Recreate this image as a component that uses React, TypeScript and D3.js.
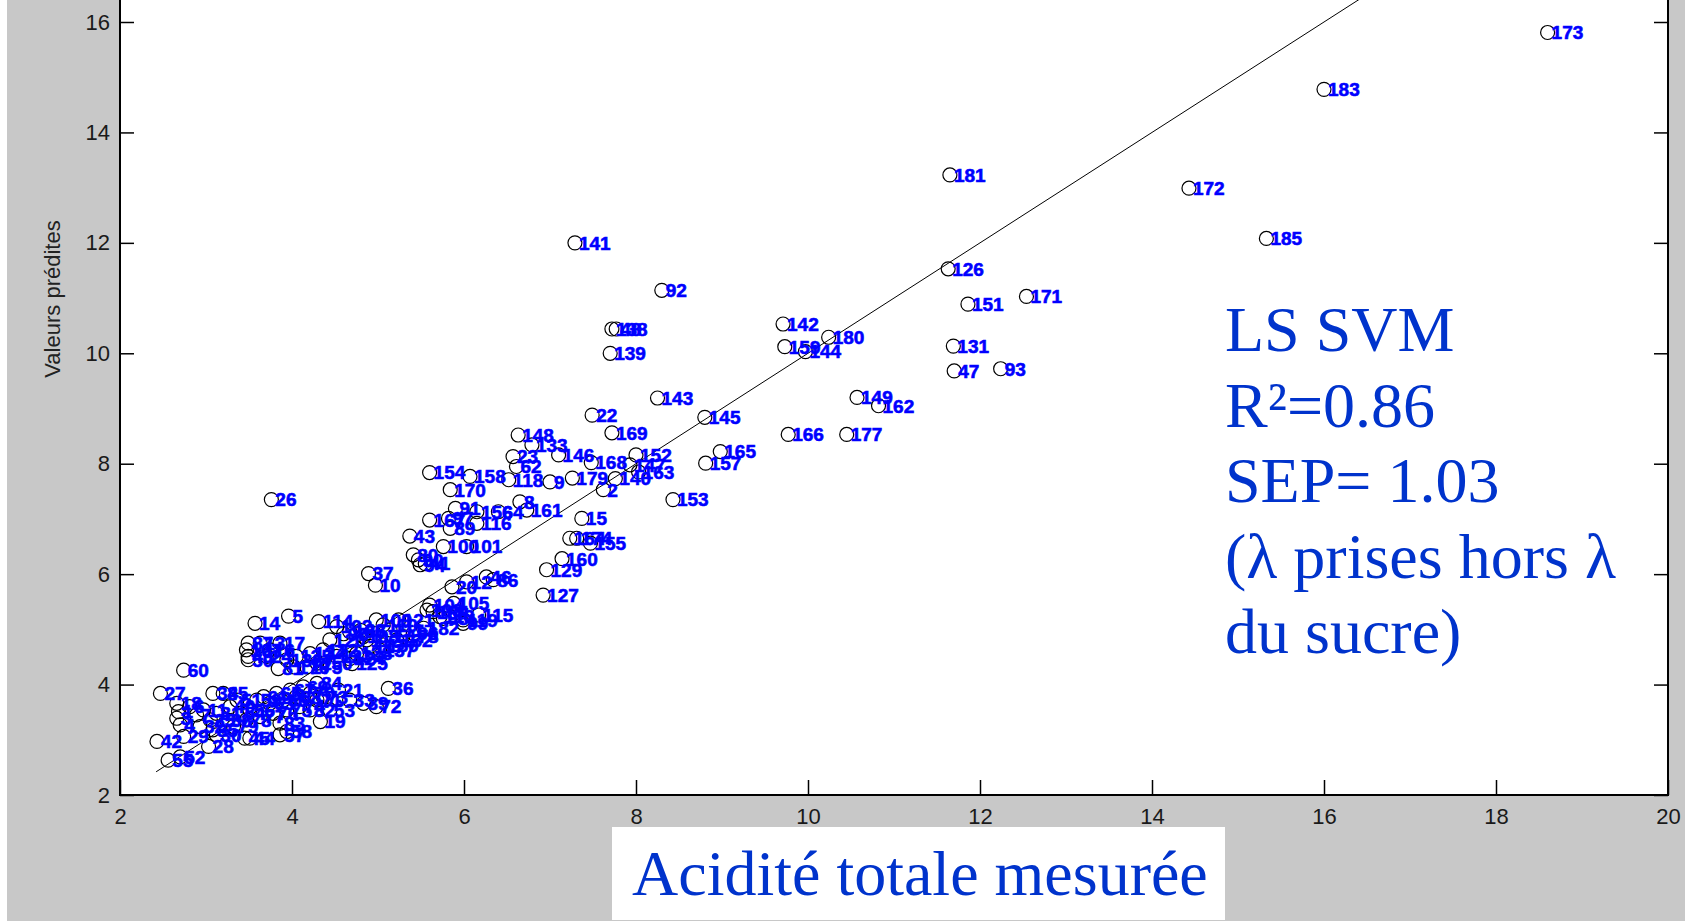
import React, { useRef, useEffect } from 'react';
import * as d3 from 'd3';

const W = 1685;
const H = 921;

const labels = [
  173, 183, 181, 172, 185, 141, 126, 92, 171, 151, 142, 138, 48, 180, 159, 144, 131, 139, 47, 93,
  143, 149, 162, 22, 145, 169, 166, 177, 148, 133, 165, 146, 152, 23, 168, 157, 147, 62, 163, 154,
  158, 179, 140, 118, 9, 170, 2, 153, 26, 8, 91, 161, 156, 64, 97, 15, 167, 116, 89, 43,
  164, 174, 155, 100, 101, 80, 90, 41, 94, 160, 129, 37, 46, 86, 12, 10, 20, 127, 105, 104,
  103, 115, 113, 119, 5, 121, 114, 14, 96, 87, 107, 49, 50, 137, 125, 81, 60, 36, 21, 27,
  34, 33, 39, 18, 72, 53, 19, 57, 58, 30, 29, 45, 44, 42, 28, 52, 55,
  102, 106, 108, 109, 110, 111, 112, 117, 120, 122, 123, 124, 128, 130, 132, 134, 135, 136, 150, 175,
  176, 178, 182, 184, 98, 99, 95, 88, 13, 16, 17, 24,
  1, 3, 4, 6, 7, 11, 25, 31, 32, 35, 38, 40, 51, 54, 56, 59, 61, 63, 65, 66,
  67, 68, 69, 70, 71, 73, 74, 75, 76, 77, 78, 79, 82, 83, 84, 85,
];

const measured = [
  18.6, 16.0, 11.65, 14.43, 15.33, 7.29, 11.63, 8.3, 12.54, 11.86, 9.71, 7.72, 7.77, 10.24, 9.73, 9.97, 11.69, 7.7, 11.7, 12.24,
  8.25, 10.57, 10.82, 7.49, 8.8, 7.72, 9.77, 10.45, 6.63, 6.79, 8.98, 7.1, 8.0, 6.57, 7.48, 8.81, 7.93, 6.61, 8.03, 5.6,
  6.07, 7.26, 7.76, 6.52, 7.0, 5.84, 7.62, 8.43, 3.76, 6.65, 5.9, 6.73, 6.15, 6.4, 5.82, 7.37, 5.6, 6.15, 5.84, 5.37,
  7.23, 7.31, 7.47, 5.76, 6.03, 5.41, 5.47, 5.55, 5.49, 7.14, 6.96, 4.89, 6.26, 6.34, 6.03, 4.97, 5.86, 6.92, 5.88, 5.6,
  5.57, 6.17, 5.72, 5.99, 3.96, 5.24, 4.31, 3.57, 5.41, 3.49, 3.47, 3.49, 3.49, 5.02, 4.7, 3.84, 2.74, 5.12, 4.54, 2.47,
  3.08, 4.67, 4.83, 2.66, 4.98, 4.44, 4.33, 3.86, 3.94, 3.12, 2.74, 3.45, 3.51, 2.43, 3.03, 2.7, 2.56,
  4.52, 4.67, 4.83, 4.98, 5.06, 5.14, 4.87, 4.91, 4.44, 4.36, 4.52, 4.67, 4.75, 5.06, 5.22, 4.21, 4.05, 3.94, 4.29, 4.17,
  4.02, 5.29, 5.53, 5.64, 5.76, 5.99, 4.6, 4.8, 3.63, 3.74, 3.86, 3.71,
  2.68, 2.66, 2.7, 2.81, 2.89, 2.97, 3.05, 3.12, 2.93, 3.08, 3.24, 3.28, 3.36, 3.4, 3.51, 3.59, 3.67, 3.74, 3.82, 3.9,
  3.98, 4.05, 4.13, 4.21, 4.29, 4.36, 4.09, 3.94, 3.78, 3.63, 3.47, 3.32, 4.21, 3.86, 4.29, 3.2,
];

const predicted = [
  15.81, 14.78, 13.23, 12.99, 12.08, 12.0, 11.53, 11.14, 11.03, 10.89, 10.53, 10.44, 10.44, 10.29, 10.12, 10.03, 10.13, 10.0, 9.68, 9.72,
  9.19, 9.2, 9.05, 8.88, 8.84, 8.56, 8.53, 8.53, 8.52, 8.34, 8.22, 8.16, 8.16, 8.13, 8.02, 8.01, 7.98, 7.95, 7.85, 7.84,
  7.77, 7.74, 7.73, 7.71, 7.67, 7.53, 7.53, 7.35, 7.35, 7.31, 7.19, 7.16, 7.13, 7.13, 7.01, 7.01, 6.98, 6.92, 6.83, 6.69,
  6.65, 6.65, 6.56, 6.5, 6.5, 6.35, 6.26, 6.19, 6.17, 6.28, 6.08, 6.01, 5.95, 5.9, 5.86, 5.8, 5.77, 5.62, 5.47, 5.44,
  5.35, 5.26, 5.23, 5.17, 5.24, 5.17, 5.14, 5.11, 4.93, 4.75, 4.63, 4.51, 4.45, 4.63, 4.38, 4.29, 4.26, 3.93, 3.9, 3.84,
  3.84, 3.72, 3.66, 3.66, 3.6, 3.54, 3.33, 3.09, 3.15, 3.09, 3.06, 3.03, 3.03, 2.97, 2.88, 2.69, 2.63,
  5.05, 4.96, 4.87, 5.17, 5.08, 4.99, 4.81, 4.69, 4.81, 4.63, 4.51, 4.47, 4.56, 4.72, 4.81, 4.56, 4.51, 4.45, 4.39, 4.32,
  4.32, 4.87, 5.02, 5.32, 5.2, 5.11, 4.92, 4.98, 4.75, 4.63, 4.75, 4.51,
  3.51, 3.39, 3.27, 3.6, 3.45, 3.54, 3.36, 3.48, 3.24, 3.18, 3.36, 3.6, 3.72, 3.48, 3.54, 3.72, 3.78, 3.66, 3.84, 3.72,
  3.9, 3.78, 3.96, 3.84, 3.72, 3.78, 3.6, 3.54, 3.48, 3.42, 3.36, 3.24, 3.54, 3.3, 4.02, 3.84,
];

const xTicks = [2, 4, 6, 8, 10, 12, 14, 16, 18, 20];
const yTicks = [2, 4, 6, 8, 10, 12, 14, 16];
const diagonal = [2.42, 18.6];
const noteLines = ['LS SVM', 'R²=0.86', 'SEP= 1.03', '(λ prises hors λ', 'du sucre)'];
const xTitle = 'Acidité totale mesurée';
const yTitle = 'Valeurs prédites';

const App = () => {
  const svgRef = useRef<SVGSVGElement>(null);

  useEffect(() => {
    const svg = d3.select(svgRef.current);
    svg.selectAll('*').remove();

    const x = d3.scaleLinear().domain([2, 20]).range([120, 1668]);
    const y = d3.scaleLinear().domain([2, 16]).range([795, 22]);

    // backgrounds
    svg.append('rect').attr('width', W).attr('height', H).attr('fill', '#fff');
    svg.append('rect').attr('x', 7).attr('width', W - 7).attr('height', H).attr('fill', '#c8c8c8');
    svg.append('rect')
      .attr('x', x(2)).attr('y', 0)
      .attr('width', x(20) - x(2)).attr('height', y(2))
      .attr('fill', '#fff');

    svg.append('clipPath').attr('id', 'plot-clip')
      .append('rect')
      .attr('x', x(2)).attr('y', 0)
      .attr('width', x(20) - x(2)).attr('height', y(2));

    const tickFont = (g) => g.selectAll('text')
      .attr('font-family', 'Liberation Sans, Arial, sans-serif')
      .attr('font-size', 22)
      .attr('fill', '#1a1a1a');

    // axes, ticks pointing inward like MATLAB
    const gx = svg.append('g').attr('transform', `translate(0,${y(2)})`)
      .call(d3.axisBottom(x).tickValues(xTicks).tickSizeInner(-15).tickSizeOuter(0).tickPadding(13));
    gx.select('.domain').remove();
    gx.selectAll('line').attr('stroke', '#000').attr('stroke-width', 1.5);
    tickFont(gx);

    const gy = svg.append('g').attr('transform', `translate(${x(2)},0)`)
      .call(d3.axisLeft(y).tickValues(yTicks).tickSizeInner(-14).tickSizeOuter(0).tickPadding(10));
    gy.select('.domain').remove();
    gy.selectAll('line').attr('stroke', '#000').attr('stroke-width', 1.5);
    tickFont(gy);

    const gr = svg.append('g').attr('transform', `translate(${x(20)},0)`)
      .call(d3.axisRight(y).tickValues(yTicks).tickSizeInner(-14).tickSizeOuter(0).tickFormat(() => ''));
    gr.select('.domain').remove();
    gr.selectAll('line').attr('stroke', '#000').attr('stroke-width', 1.5);

    svg.append('path')
      .attr('d', `M${x(2)},0V${y(2)}H${x(20)}V0`)
      .attr('fill', 'none')
      .attr('stroke', '#000')
      .attr('stroke-width', 2);

    // y = x reference line
    svg.append('line')
      .attr('clip-path', 'url(#plot-clip)')
      .attr('x1', x(diagonal[0])).attr('y1', y(diagonal[0]))
      .attr('x2', x(diagonal[1])).attr('y2', y(diagonal[1]))
      .attr('stroke', '#000')
      .attr('stroke-width', 1);

    const pts = labels.map((l, i) => ({ label: l, mx: measured[i], py: predicted[i] }));

    svg.append('g').selectAll('circle')
      .data(pts)
      .join('circle')
      .attr('cx', d => x(d.mx))
      .attr('cy', d => y(d.py))
      .attr('r', 7)
      .attr('fill', 'none')
      .attr('stroke', '#000')
      .attr('stroke-width', 1.2);

    svg.append('g').selectAll('text')
      .data(pts)
      .join('text')
      .attr('x', d => x(d.mx) + 4)
      .attr('y', d => y(d.py))
      .attr('dy', '0.36em')
      .attr('font-family', 'Liberation Sans, Arial, sans-serif')
      .attr('font-weight', 'bold')
      .attr('font-size', 19)
      .attr('fill', '#0000ff')
      .attr('stroke', '#0000ff')
      .attr('stroke-width', 0.6)
      .text(d => d.label);

    // annotation block
    svg.append('g').selectAll('text')
      .data(noteLines)
      .join('text')
      .attr('x', 1225)
      .attr('y', (d, i) => 351 + i * 75.5)
      .attr('font-family', 'Liberation Serif, Times New Roman, serif')
      .attr('font-size', 64)
      .attr('fill', '#0033cc')
      .text(d => d);

    // x title on its white box
    svg.append('rect')
      .attr('x', 612).attr('y', 827)
      .attr('width', 613).attr('height', 93)
      .attr('fill', '#fff');
    svg.append('text')
      .attr('x', 632).attr('y', 895)
      .attr('font-family', 'Liberation Serif, Times New Roman, serif')
      .attr('font-size', 64)
      .attr('fill', '#0033cc')
      .text(xTitle);

    svg.append('text')
      .attr('transform', 'translate(60,299) rotate(-90)')
      .attr('text-anchor', 'middle')
      .attr('font-family', 'Liberation Sans, Arial, sans-serif')
      .attr('font-size', 22)
      .attr('fill', '#222')
      .text(yTitle);
  }, []);

  return (
    <svg ref={svgRef} width={W} height={H} style={{ position: 'fixed', left: 0, top: 0, display: 'block' }}></svg>
  );
};

export default App;
